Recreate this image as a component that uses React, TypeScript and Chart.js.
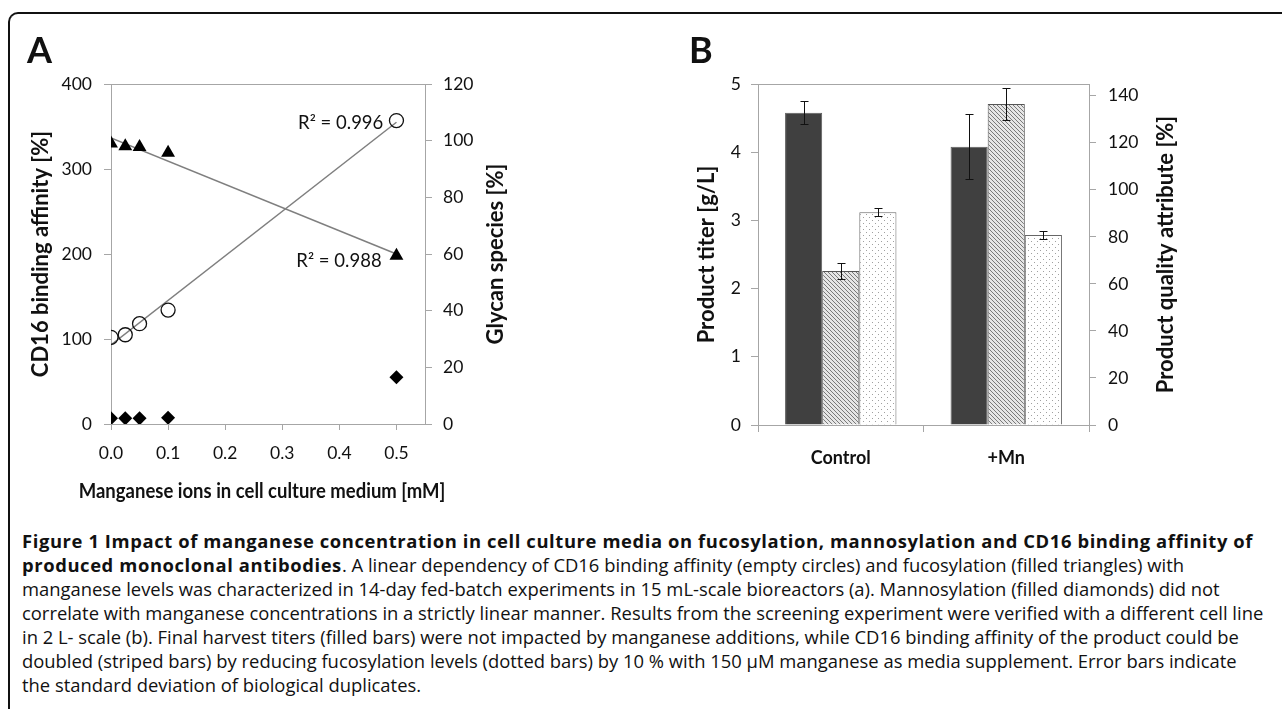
import React, { useEffect, useRef } from 'react';
import { Chart, registerables } from 'chart.js';

Chart.register(...registerables);

const FONT = 'Lato, "Open Sans", sans-serif';
const CAPTION_FONT = '"Open Sans", "Noto Sans", sans-serif';
const AXIS = '#a6a6a6';
const TEXT = '#111111';

// ---------- Panel A data ----------
const mnConcentration = [0, 0.025, 0.05, 0.1, 0.5];
const cd16Affinity = [102, 105, 118, 134, 357];
const fucosylation = [99, 98, 97.8, 95.7, 59.4];
const mannosylation = [2.0, 2.0, 2.0, 2.2, 16.5];
const trendX = [0, 0.5];
const cd16Trend = [93, 355];
const fucosylationTrend = [101, 60];
const r2Texts = ['R² = 0.996', 'R² = 0.988'];

// ---------- Panel B data ----------
const groups = ['Control', '+Mn'];
const titer = [4.58, 4.08];
const titerSd = [0.165, 0.475];
const cd16Quality = [65.5, 136.5];
const cd16QualitySd = [3.4, 6.9];
const fucQuality = [90.5, 80.8];
const fucQualitySd = [1.8, 1.7];

const tickFont = { family: FONT, size: 17.5 };
const TITLE_SIZE = 22;
const titleFont = { family: FONT, size: TITLE_SIZE, weight: 'bold' as const };

const pts = (xs: number[], ys: number[]) => xs.map((x, i) => ({ x, y: ys[i] }));

const framePlugin = {
  id: 'frame',
  beforeDatasetsDraw(chart: any) {
    const { ctx, chartArea: a } = chart;
    ctx.save();
    ctx.strokeStyle = AXIS;
    ctx.lineWidth = 1;
    ctx.strokeRect(Math.round(a.left) + 0.5, Math.round(a.top) + 0.5, Math.round(a.right - a.left), Math.round(a.bottom - a.top));
    ctx.restore();
  },
};

// right-hand axis title, read bottom-to-top like the left one
const rightTitlePlugin = (text: string, offset: number) => ({
  id: 'rightTitle',
  afterDraw(chart: any) {
    const { ctx, chartArea: a } = chart;
    const s = chart.scales.y1;
    ctx.save();
    ctx.translate(s.left + offset, (a.top + a.bottom) / 2);
    ctx.rotate(-Math.PI / 2);
    ctx.font = `bold ${TITLE_SIZE}px ${FONT}`;
    ctx.fillStyle = TEXT;
    ctx.textAlign = 'center';
    ctx.textBaseline = 'middle';
    ctx.fillText(text, 0, 0);
    ctx.restore();
  },
});

// bottom axis title that is wider than the plot area
const bottomTitlePlugin = (text: string, dx: number, dy: number) => ({
  id: 'bottomTitle',
  afterDraw(chart: any) {
    const { ctx, chartArea: a } = chart;
    ctx.save();
    ctx.translate((a.left + a.right) / 2 + dx, a.bottom + dy);
    ctx.scale(1, 1.15);
    ctx.font = `bold 18.5px ${FONT}`;
    ctx.fillStyle = TEXT;
    ctx.textAlign = 'center';
    ctx.textBaseline = 'middle';
    ctx.fillText(text, 0, 0);
    ctx.restore();
  },
});

const r2Plugin = {
  id: 'r2labels',
  afterDatasetsDraw(chart: any) {
    const { ctx } = chart;
    const xs = chart.scales.x;
    const ys = chart.scales.y;
    const anchors = [
      { x: 0.477, y: 354 },
      { x: 0.474, y: 192 },
    ];
    ctx.save();
    ctx.font = `18.5px ${FONT}`;
    ctx.fillStyle = TEXT;
    ctx.textAlign = 'right';
    ctx.textBaseline = 'middle';
    r2Texts.forEach((t, i) => {
      ctx.fillText(t, xs.getPixelForValue(anchors[i].x), ys.getPixelForValue(anchors[i].y));
    });
    ctx.restore();
  },
};

const errorBarPlugin = {
  id: 'errorBars',
  afterDatasetsDraw(chart: any) {
    const { ctx } = chart;
    ctx.save();
    ctx.strokeStyle = '#111';
    ctx.lineWidth = 1;
    chart.data.datasets.forEach((ds: any, i: number) => {
      const meta = chart.getDatasetMeta(i);
      const scale = chart.scales[ds.yAxisID];
      meta.data.forEach((bar: any, j: number) => {
        const v = ds.data[j];
        const e = ds.errors[j];
        const yT = Math.round(scale.getPixelForValue(v + e)) + 0.5;
        const yB = Math.round(scale.getPixelForValue(v - e)) + 0.5;
        const x = Math.round(bar.x) + 0.5;
        ctx.beginPath();
        ctx.moveTo(x, yT);
        ctx.lineTo(x, yB);
        ctx.moveTo(x - 4, yT);
        ctx.lineTo(x + 4, yT);
        ctx.moveTo(x - 4, yB);
        ctx.lineTo(x + 4, yB);
        ctx.stroke();
      });
    });
    ctx.restore();
  },
};

function makeStripes() {
  const c = document.createElement('canvas');
  c.width = 4;
  c.height = 4;
  const g = c.getContext('2d')!;
  g.fillStyle = '#e6e6e6';
  g.fillRect(0, 0, 4, 4);
  g.strokeStyle = '#7a7a7a';
  g.lineWidth = 1;
  g.beginPath();
  g.moveTo(0, 0);
  g.lineTo(4, 4);
  g.moveTo(-1, 3);
  g.lineTo(1, 5);
  g.moveTo(3, -1);
  g.lineTo(5, 1);
  g.stroke();
  return g.createPattern(c, 'repeat');
}

function makeDots() {
  const c = document.createElement('canvas');
  c.width = 6;
  c.height = 6;
  const g = c.getContext('2d')!;
  g.fillStyle = '#ffffff';
  g.fillRect(0, 0, 6, 6);
  g.fillStyle = '#a0a0a0';
  g.fillRect(1, 1, 1, 1);
  g.fillRect(4, 4, 1, 1);
  return g.createPattern(c, 'repeat');
}

function configA(): any {
  return {
    type: 'scatter',
    data: {
      datasets: [
        {
          label: 'CD16 binding affinity',
          data: pts(mnConcentration, cd16Affinity),
          yAxisID: 'y',
          pointStyle: 'circle',
          pointRadius: 7,
          pointBorderWidth: 1.3,
          borderColor: '#111',
          backgroundColor: 'rgba(255,255,255,0)',
        },
        {
          label: 'Fucosylation',
          data: pts(mnConcentration, fucosylation),
          yAxisID: 'y1',
          pointStyle: 'triangle',
          pointRadius: 8,
          pointBorderWidth: 0,
          borderColor: '#000',
          backgroundColor: '#000',
        },
        {
          label: 'Mannosylation',
          data: pts(mnConcentration, mannosylation),
          yAxisID: 'y1',
          pointStyle: 'rectRot',
          pointRadius: 7,
          pointBorderWidth: 0,
          borderColor: '#000',
          backgroundColor: '#000',
        },
        {
          label: 'CD16 trend',
          data: pts(trendX, cd16Trend),
          yAxisID: 'y',
          showLine: true,
          pointRadius: 0,
          borderColor: '#7f7f7f',
          borderWidth: 1.5,
        },
        {
          label: 'Fucosylation trend',
          data: pts(trendX, fucosylationTrend),
          yAxisID: 'y1',
          showLine: true,
          pointRadius: 0,
          borderColor: '#7f7f7f',
          borderWidth: 1.5,
        },
      ],
    },
    options: {
      responsive: false,
      animation: false,
      layout: { padding: { top: 84, left: 0, right: 0, bottom: 0 } },
      plugins: { legend: { display: false }, tooltip: { enabled: false } },
      scales: {
        x: {
          type: 'linear',
          position: 'bottom',
          min: 0,
          max: 0.55,
          afterFit: (s: any) => { s.height = 96; },
          ticks: {
            stepSize: 0.1,
            includeBounds: false,
            font: tickFont,
            color: TEXT,
            padding: 13,
            maxRotation: 0,
            autoSkip: false,
            callback: (v: any) => Number(v).toFixed(1),
          },
          grid: { display: true, drawOnChartArea: false, drawTicks: true, tickLength: 6, color: AXIS },
          border: { display: true, color: AXIS },
        },
        y: {
          type: 'linear',
          position: 'left',
          min: 0,
          max: 400,
          afterFit: (s: any) => { s.width = 111; },
          ticks: { stepSize: 100, font: tickFont, color: TEXT, padding: 12 },
          grid: { drawOnChartArea: false, tickLength: 7, color: AXIS },
          border: { color: AXIS },
          title: {
            display: true,
            text: 'CD16 binding affinity [%]',
            font: titleFont,
            color: TEXT,
            padding: { top: 28, bottom: 0 },
          },
        },
        y1: {
          type: 'linear',
          position: 'right',
          min: 0,
          max: 120,
          afterFit: (s: any) => { s.width = 215; },
          ticks: { stepSize: 20, font: tickFont, color: TEXT, padding: 11 },
          grid: { drawOnChartArea: false, tickLength: 7, color: AXIS },
          border: { color: AXIS },
        },
      },
    },
    plugins: [
      framePlugin,
      r2Plugin,
      rightTitlePlugin('Glycan species [%]', 71),
      bottomTitlePlugin('Manganese ions in cell culture medium [mM]', -6, 67),
    ],
  };
}

function configB(): any {
  const barCommon = { categoryPercentage: 0.673, barPercentage: 1, borderWidth: 1 };
  return {
    type: 'bar',
    data: {
      labels: groups,
      datasets: [
        {
          label: 'Product titer',
          data: titer,
          errors: titerSd,
          yAxisID: 'y',
          backgroundColor: '#404040',
          borderColor: '#5c5c5c',
          ...barCommon,
        },
        {
          label: 'CD16 binding affinity',
          data: cd16Quality,
          errors: cd16QualitySd,
          yAxisID: 'y1',
          backgroundColor: makeStripes(),
          borderColor: '#555',
          ...barCommon,
        },
        {
          label: 'Fucosylation',
          data: fucQuality,
          errors: fucQualitySd,
          yAxisID: 'y1',
          backgroundColor: makeDots(),
          borderColor: '#666',
          ...barCommon,
        },
      ],
    },
    options: {
      responsive: false,
      animation: false,
      layout: { padding: { top: 84, left: 0, right: 0, bottom: 0 } },
      plugins: { legend: { display: false }, tooltip: { enabled: false } },
      scales: {
        x: {
          type: 'category',
          afterFit: (s: any) => { s.height = 95; },
          ticks: { font: { family: FONT, size: 18, weight: 'bold' }, color: TEXT, padding: 15 },
          grid: { display: true, drawOnChartArea: false, tickLength: 7, color: AXIS, offset: true },
          border: { color: AXIS },
        },
        y: {
          type: 'linear',
          position: 'left',
          min: 0,
          max: 5,
          afterFit: (s: any) => { s.width = 118; },
          ticks: { stepSize: 1, font: tickFont, color: TEXT, padding: 10 },
          grid: { drawOnChartArea: false, tickLength: 7, color: AXIS },
          border: { color: AXIS },
          title: {
            display: true,
            text: 'Product titer [g/L]',
            font: titleFont,
            color: TEXT,
            padding: { top: 54, bottom: 0 },
          },
        },
        y1: {
          type: 'linear',
          position: 'right',
          min: 0,
          max: 145,
          afterFit: (s: any) => { s.width = 193; },
          ticks: { stepSize: 20, includeBounds: false, font: tickFont, color: TEXT, padding: 12 },
          grid: { drawOnChartArea: false, tickLength: 7, color: AXIS },
          border: { color: AXIS },
        },
      },
    },
    plugins: [framePlugin, errorBarPlugin, rightTitlePlugin('Product quality attribute [%]', 77)],
  };
}

const captionLine: React.CSSProperties = { whiteSpace: 'nowrap', height: 24 };
const boldStyle: React.CSSProperties = { fontWeight: 700, letterSpacing: '0.6px' };

export default function App() {
  const refA = useRef<HTMLCanvasElement>(null);
  const refB = useRef<HTMLCanvasElement>(null);

  useEffect(() => {
    const a = new Chart(refA.current as HTMLCanvasElement, configA());
    const b = new Chart(refB.current as HTMLCanvasElement, configB());
    return () => {
      a.destroy();
      b.destroy();
    };
  }, []);

  return (
    <div
      style={{
        position: 'absolute',
        left: 0,
        top: 0,
        width: 1282,
        height: 709,
        overflow: 'hidden',
        background: '#fff',
        fontFamily: FONT,
        color: '#111',
      }}
    >
      <div
        style={{
          position: 'absolute',
          left: 8,
          top: 12,
          width: 1300,
          height: 800,
          borderTop: '2px solid #111',
          borderLeft: '2px solid #111',
          borderTopLeftRadius: 10,
        }}
      />
      <canvas ref={refA} width={640} height={520} style={{ position: 'absolute', left: 0, top: 0, display: 'block' }} />
      <canvas ref={refB} width={642} height={520} style={{ position: 'absolute', left: 640, top: 0, display: 'block' }} />
      <div style={{ position: 'absolute', left: 27, top: 31, fontSize: 36, lineHeight: '36px', fontWeight: 700 }}>A</div>
      <div style={{ position: 'absolute', left: 689, top: 31, fontSize: 36, lineHeight: '36px', fontWeight: 700 }}>B</div>
      <div style={{ position: 'absolute', left: 22, top: 529, fontSize: 18.4, lineHeight: '24px', fontFamily: CAPTION_FONT }}>
        <div style={captionLine}>
          <span style={boldStyle}>Figure 1 Impact of manganese concentration in cell culture media on fucosylation, mannosylation and CD16 binding affinity of</span>
        </div>
        <div style={captionLine}>
          <span style={boldStyle}>produced monoclonal antibodies</span>. A linear dependency of CD16 binding affinity (empty circles) and fucosylation (filled triangles) with
        </div>
        <div style={captionLine}>
          manganese levels was characterized in 14-day fed-batch experiments in 15 mL-scale bioreactors (a). Mannosylation (filled diamonds) did not
        </div>
        <div style={captionLine}>
          correlate with manganese concentrations in a strictly linear manner. Results from the screening experiment were verified with a different cell line
        </div>
        <div style={captionLine}>
          in 2 L- scale (b). Final harvest titers (filled bars) were not impacted by manganese additions, while CD16 binding affinity of the product could be
        </div>
        <div style={captionLine}>
          doubled (striped bars) by reducing fucosylation levels (dotted bars) by 10 % with 150 µM manganese as media supplement. Error bars indicate
        </div>
        <div style={captionLine}>the standard deviation of biological duplicates.</div>
      </div>
    </div>
  );
}
